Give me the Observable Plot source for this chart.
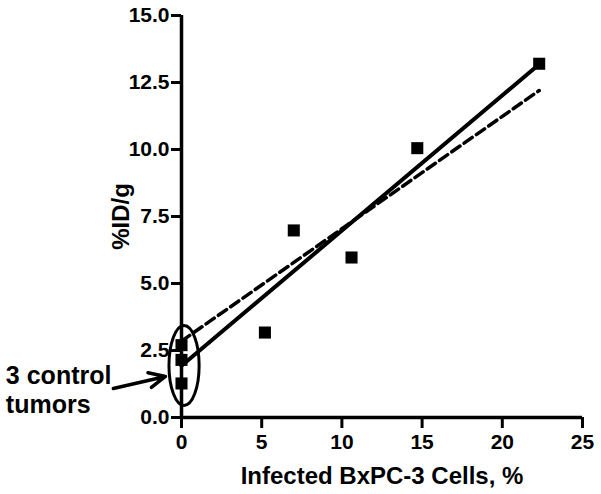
<!DOCTYPE html>
<html><head><meta charset="utf-8">
<script src="https://cdn.jsdelivr.net/npm/d3@7"></script>
<script src="https://cdn.jsdelivr.net/npm/@observablehq/plot@0.6"></script>
<style>body{margin:0;background:#fff}</style>
</head><body><div id="chart"></div>
<script>
// data
const infectedPct = [0, 0, 0, 5.2, 7.0, 10.6, 14.7, 22.3];
const idPerGram   = [2.7, 2.15, 1.27, 3.17, 6.98, 5.97, 10.05, 13.2];
const solidFitX  = [0, 22.3];
const solidFitY  = [1.93, 13.18];
const dashedFitX = [0, 22.3];
const dashedFitY = [2.85, 12.2];
const xTicks = [0, 5, 10, 15, 20, 25];
const yTicks = [0, 2.5, 5, 7.5, 10, 12.5, 15];
const noteLines = ["3 control", "tumors"];
const noteX = [-10.95, -10.95];
const noteY = [1.55, 0.45];
const arrowFrom = [-4.25, 1.08];
const arrowTo = [-1.0, 1.53];
const ellipseCenter = [0.19, 1.92];
const ellipseRadii = [0.94, 1.49];

const pts = infectedPct.map((x, i) => ({x, y: idPerGram[i]}));
const solid = solidFitX.map((x, i) => ({x, y: solidFitY[i]}));
const dashed = dashedFitX.map((x, i) => ({x, y: dashedFitY[i]}));
const notes = noteLines.map((t, i) => ({t, x: noteX[i], y: noteY[i]}));

const font = "'Liberation Sans', Arial, sans-serif";

const ellipseMark = (index, scales) => {
  const cx = scales.x(ellipseCenter[0]), cy = scales.y(ellipseCenter[1]);
  const rx = scales.x(ellipseCenter[0] + ellipseRadii[0]) - cx;
  const ry = cy - scales.y(ellipseCenter[1] + ellipseRadii[1]);
  const e = d3.create("svg:ellipse")
    .attr("cx", cx).attr("cy", cy).attr("rx", rx).attr("ry", ry)
    .attr("fill", "none").attr("stroke", "black").attr("stroke-width", 3);
  return e.node();
};

const chart = Plot.plot({
  width: 601,
  height: 494,
  marginLeft: 181,
  marginRight: 19,
  marginTop: 15,
  marginBottom: 77,
  style: {fontFamily: font, fontWeight: "bold", background: "white", color: "black"},
  x: {domain: [0, 25]},
  y: {domain: [0, 15]},
  marks: [
    Plot.axisX({ticks: xTicks, tickSize: 11, tickPadding: 6, strokeWidth: 3, fontSize: 21,
      fontWeight: "bold", label: "Infected BxPC-3 Cells, %", labelAnchor: "center",
      labelArrow: "none", labelOffset: 66}),
    Plot.axisY({ticks: yTicks, tickFormat: d3.format(".1f"), tickSize: 10, tickPadding: 2,
      strokeWidth: 3, fontSize: 21, fontWeight: "bold", label: "%ID/g", labelAnchor: "center",
      labelArrow: "none", labelOffset: 70}),
    Plot.ruleX([0], {strokeWidth: 3.5}),
    Plot.ruleY([0], {strokeWidth: 3.5}),
    Plot.line(solid, {x: "x", y: "y", stroke: "black", strokeWidth: 4}),
    Plot.line(dashed, {x: "x", y: "y", stroke: "black", strokeWidth: 3.5, strokeDasharray: "10,5"}),
    Plot.dot(pts, {x: "x", y: "y", symbol: "square", r: 6.8, fill: "black", stroke: "none"}),
    ellipseMark,
    Plot.arrow([{x1: arrowFrom[0], y1: arrowFrom[1], x2: arrowTo[0], y2: arrowTo[1]}],
      {x1: "x1", y1: "y1", x2: "x2", y2: "y2", stroke: "black", strokeWidth: 3.5, headLength: 12, headAngle: 50}),
    Plot.text(notes, {x: "x", y: "y", text: "t", textAnchor: "start", fontSize: 25,
      fontWeight: "bold", fill: "black"})
  ]
});
// style axis label fonts
chart.querySelectorAll("[aria-label='x-axis label'], [aria-label='y-axis label']").forEach(g => {
  g.setAttribute("font-size", 24);
});
document.getElementById("chart").appendChild(chart);
</script>
</body></html>
